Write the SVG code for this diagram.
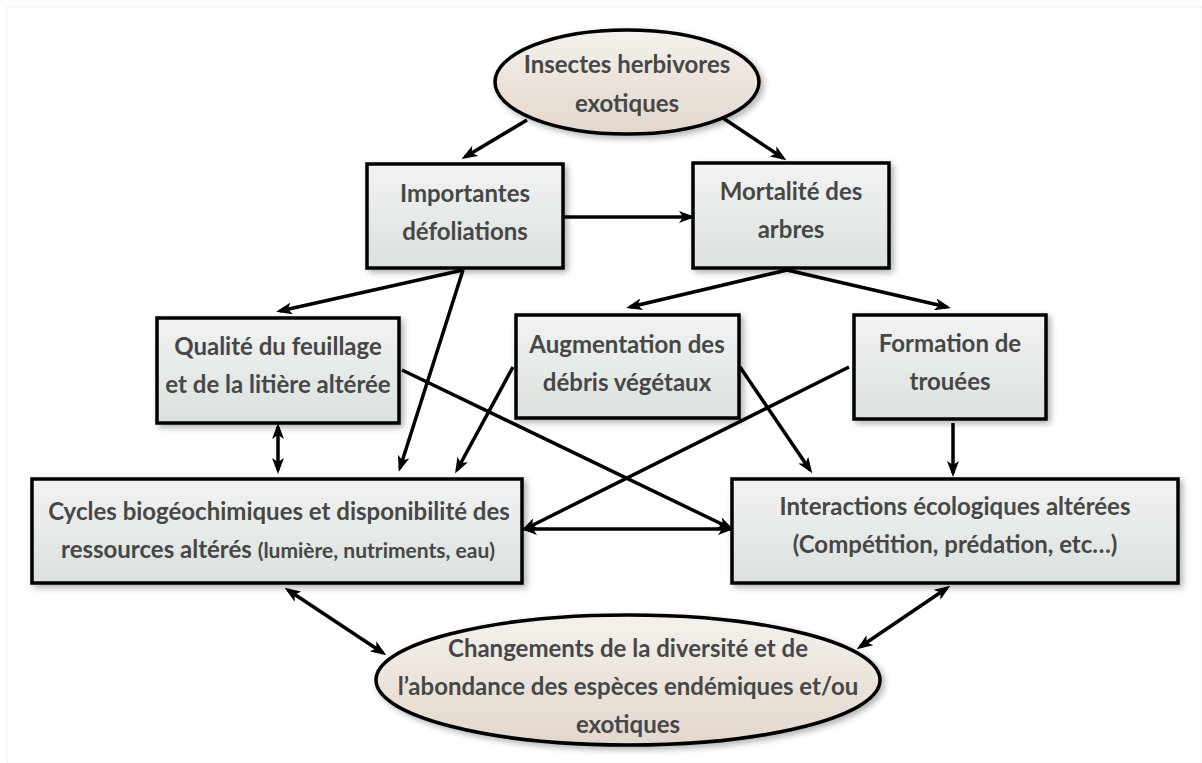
<svg xmlns="http://www.w3.org/2000/svg" width="1202" height="763" viewBox="0 0 1202 763">
<style>
.box{fill:url(#gBox);stroke:#000;stroke-width:3.5;filter:url(#sh)}
.ell{fill:url(#gEll);stroke:#000;stroke-width:3.5;filter:url(#sh)}
.t{font-family:Lato,"Open Sans","Liberation Sans",sans-serif;font-weight:bold;font-size:24px;fill:#474747;text-anchor:middle}
.s{font-size:21px}
.c{stroke:#000;stroke-width:3.5;fill:none;marker-end:url(#ah)}
.d{marker-start:url(#ah)}
</style>
<defs>
<linearGradient id="gBox" x1="0" y1="0" x2="0" y2="1">
<stop offset="0" stop-color="#f1f3f2"/><stop offset="1" stop-color="#dbe1de"/>
</linearGradient>
<linearGradient id="gEll" x1="0" y1="0" x2="0" y2="1">
<stop offset="0" stop-color="#f4f1ec"/><stop offset="1" stop-color="#e2d7cd"/>
</linearGradient>
<filter id="sh" x="-10%" y="-20%" width="130%" height="150%">
<feDropShadow dx="3" dy="3" stdDeviation="3" flood-color="#000" flood-opacity="0.3"/>
</filter>
<marker id="ah" viewBox="0 0 16 12" refX="12" refY="6" markerWidth="16" markerHeight="12" markerUnits="userSpaceOnUse" orient="auto-start-reverse">
<path d="M0,0 L16,6 L0,12 L4,6 z" fill="#000"/>
</marker>
</defs>
<rect x="7" y="7" width="1195" height="756" fill="#fff" stroke="#f0f0f0" stroke-width="1"/>
<g id="connectors">
<line class="c" x1="527" y1="120" x2="465" y2="157"/>
<line class="c" x1="723" y1="118" x2="783" y2="158"/>
<line class="c" x1="563" y1="217" x2="691" y2="217"/>
<line class="c" x1="463" y1="270" x2="280" y2="311"/>
<line class="c" x1="463" y1="270" x2="400" y2="468"/>
<line class="c" x1="787" y1="270" x2="630" y2="307"/>
<line class="c" x1="787" y1="270" x2="947" y2="307"/>
<line class="c d" x1="278" y1="427" x2="278" y2="470"/>
<line class="c" x1="402" y1="370" x2="730" y2="528"/>
<line class="c" x1="513" y1="367" x2="457" y2="470"/>
<line class="c" x1="740" y1="367" x2="810" y2="470"/>
<line class="c" x1="849" y1="367" x2="525" y2="529"/>
<line class="c" x1="953" y1="423" x2="953" y2="473"/>
<line class="c d" x1="525" y1="529" x2="730" y2="529"/>
<line class="c d" x1="288" y1="590" x2="383" y2="653"/>
<line class="c d" x1="947" y1="588" x2="860" y2="647"/>
</g>
<g id="insectes">
<ellipse class="ell" cx="627" cy="82" rx="132" ry="52"/>
<text class="t" x="627" y="73">Insectes herbivores</text>
<text class="t" x="627" y="112">exotiques</text>
</g>
<g id="importantes">
<rect class="box" x="367" y="164" width="196" height="104"/>
<text class="t" x="465" y="202">Importantes</text>
<text class="t" x="465" y="240">défoliations</text>
</g>
<g id="mortalite">
<rect class="box" x="693" y="163" width="196" height="105"/>
<text class="t" x="791" y="200">Mortalité des</text>
<text class="t" x="791" y="238">arbres</text>
</g>
<g id="qualite">
<rect class="box" x="157" y="318" width="242" height="105"/>
<text class="t" x="278" y="355">Qualité du feuillage</text>
<text class="t" x="278" y="393">et de la litière altérée</text>
</g>
<g id="augmentation">
<rect class="box" x="516" y="315" width="223" height="103"/>
<text class="t" x="627" y="353">Augmentation des</text>
<text class="t" x="627" y="391">débris végétaux</text>
</g>
<g id="formation">
<rect class="box" x="854" y="315" width="192" height="104"/>
<text class="t" x="950" y="352">Formation de</text>
<text class="t" x="950" y="390">trouées</text>
</g>
<g id="cycles">
<rect class="box" x="32" y="479" width="490" height="104"/>
<text class="t" x="279" y="520">Cycles biogéochimiques et disponibilité des</text>
<text class="t" x="278" y="558">ressources altérés <tspan class="s">(lumière, nutriments, eau)</tspan></text>
</g>
<g id="interactions">
<rect class="box" x="732" y="479" width="446" height="104"/>
<text class="t" x="955" y="515">Interactions écologiques altérées</text>
<text class="t" x="955" y="553">(Compétition, prédation, etc…)</text>
</g>
<g id="changements">
<ellipse class="ell" cx="628" cy="680" rx="252" ry="65"/>
<text class="t" x="628" y="657">Changements de la diversité et de</text>
<text class="t" x="628" y="695">l’abondance des espèces endémiques et/ou</text>
<text class="t" x="628" y="733">exotiques</text>
</g>
</svg>
